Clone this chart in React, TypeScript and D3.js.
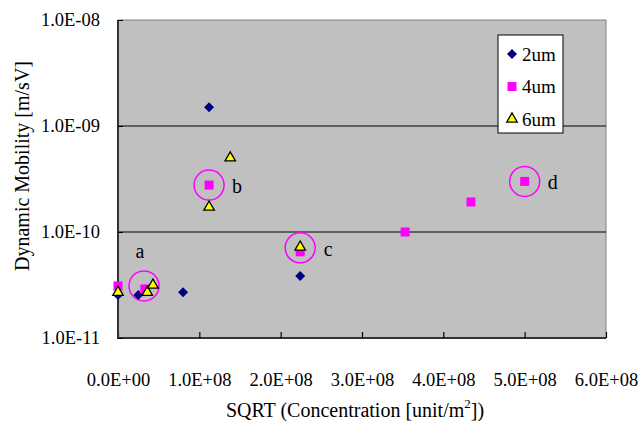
import React, { useRef, useEffect } from 'react';
import * as d3 from 'd3';

// SQRT(concentration) in unit/m, mobility in m/sV
const s2umX = [0, 0.25e8, 0.8e8, 1.12e8, 2.24e8];
const s2umY = [2.55e-11, 2.55e-11, 2.7e-11, 1.5e-9, 3.85e-11];
const s4umX = [0, 0.33e8, 1.12e8, 2.24e8, 3.53e8, 4.34e8, 5.0e8];
const s4umY = [3.1e-11, 2.9e-11, 2.77e-10, 6.5e-11, 1.0e-10, 1.92e-10, 3.0e-10];
const s6umX = [0, 0.36e8, 0.43e8, 1.12e8, 1.38e8, 2.24e8];
const s6umY = [2.7e-11, 2.7e-11, 3.16e-11, 1.72e-10, 5.0e-10, 7.2e-11];

const seriesNames = ['2um', '4um', '6um'];
const xTicks = [0, 1e8, 2e8, 3e8, 4e8, 5e8, 6e8];
const yTicks = [1e-11, 1e-10, 1e-9, 1e-8];

// circled groups
const noteLabels = ['a', 'b', 'c', 'd'];
const noteX = [0.32e8, 1.12e8, 2.24e8, 5.0e8];
const noteY = [3.1e-11, 2.77e-10, 7.1e-11, 3.0e-10];

const fmtX = (v) => {
  if (v === 0) return '0.0E+00';
  const e = Math.floor(Math.log10(v));
  return (v / Math.pow(10, e)).toFixed(1) + 'E+' + String(e).padStart(2, '0');
};
const fmtY = (v) => {
  const e = Math.round(Math.log10(v));
  return '1.0E-' + String(-e).padStart(2, '0');
};

const App = () => {
  const ref = useRef(null);

  useEffect(() => {
    const svg = d3.select(ref.current);
    svg.selectAll('*').remove();

    const m = { left: 118, right: 606, top: 20, bottom: 338 };
    const x = d3.scaleLinear().domain([0, 6e8]).range([m.left, m.right]);
    const y = d3.scaleLog().domain([1e-11, 1e-8]).range([m.bottom, m.top]);
    const font = '"Liberation Serif", "Times New Roman", serif';

    svg.append('rect')
      .attr('x', m.left).attr('y', m.top)
      .attr('width', m.right - m.left).attr('height', m.bottom - m.top)
      .attr('fill', '#c0c0c0').attr('stroke', '#808080').attr('stroke-width', 1);

    // grid
    svg.selectAll('.grid')
      .data([1e-10, 1e-9])
      .join('line')
      .attr('x1', m.left).attr('x2', m.right)
      .attr('y1', d => y(d)).attr('y2', d => y(d))
      .attr('stroke', '#000').attr('stroke-width', 1);

    // axes
    const xAxis = svg.append('g')
      .attr('transform', `translate(0, ${m.bottom})`)
      .call(d3.axisBottom(x).tickValues(xTicks).tickSize(-6).tickFormat(fmtX).tickPadding(35));
    xAxis.select('.domain').attr('stroke', '#333').attr('stroke-width', 2).attr('d', `M${m.left - 1},0H${m.right}`);
    xAxis.selectAll('.tick line').attr('stroke', '#000').attr('stroke-width', 1.2);
    xAxis.selectAll('text').attr('font-family', font).attr('font-size', 18.5).attr('fill', '#000');

    const yAxis = svg.append('g')
      .attr('transform', `translate(${m.left}, 0)`)
      .call(d3.axisLeft(y).tickValues(yTicks).tickSize(-5).tickFormat(fmtY).tickPadding(18));
    yAxis.select('.domain').attr('stroke', '#333').attr('stroke-width', 2).attr('d', `M0,${m.top}V${m.bottom + 1}`);
    yAxis.selectAll('.tick line').attr('stroke', '#000');
    yAxis.selectAll('text').attr('font-family', font).attr('font-size', 18.5).attr('fill', '#000');

    // circles around groups
    noteLabels.forEach((lab, i) => {
      const cx = x(noteX[i]), cy = y(noteY[i]);
      svg.append('circle')
        .attr('cx', cx).attr('cy', cy).attr('r', 15)
        .attr('fill', 'none').attr('stroke', '#ff00ff').attr('stroke-width', 1.5);
      const dx = lab === 'a' ? -4 : 28;
      const dy = lab === 'a' ? -35 : 1;
      svg.append('text')
        .attr('x', cx + dx).attr('y', cy + dy)
        .attr('dy', '0.35em')
        .attr('text-anchor', 'middle')
        .attr('font-family', font).attr('font-size', 20)
        .text(lab);
    });

    const diamond = d3.symbol(d3.symbolSquare, 50);
    const square = d3.symbol(d3.symbolSquare, 81);
    const tri = d3.symbol(d3.symbolTriangle, 48);

    const pts = (xs, ys) => xs.map((v, i) => ({ x: v, y: ys[i] }));

    svg.append('g').selectAll('path')
      .data(pts(s2umX, s2umY))
      .join('path')
      .attr('d', diamond)
      .attr('transform', d => `translate(${x(d.x)},${y(d.y)}) rotate(45)`)
      .attr('fill', '#000080');

    svg.append('g').selectAll('path')
      .data(pts(s4umX, s4umY))
      .join('path')
      .attr('d', square)
      .attr('transform', d => `translate(${x(d.x)},${y(d.y)})`)
      .attr('fill', '#ff00ff');

    svg.append('g').selectAll('path')
      .data(pts(s6umX, s6umY))
      .join('path')
      .attr('d', tri)
      .attr('transform', d => `translate(${x(d.x)},${y(d.y)})`)
      .attr('fill', '#ffff00').attr('stroke', '#000').attr('stroke-width', 1.3);

    // legend
    const lg = svg.append('g').attr('transform', 'translate(498, 35)');
    lg.append('rect').attr('width', 65).attr('height', 98)
      .attr('fill', '#fff').attr('stroke', '#000').attr('stroke-width', 1);
    const syms = [diamond, square, tri];
    const fills = ['#000080', '#ff00ff', '#ffff00'];
    seriesNames.forEach((name, i) => {
      const yy = 19 + i * 32.5;
      lg.append('path')
        .attr('d', syms[i])
        .attr('transform', `translate(14, ${yy}) ${i === 0 ? 'rotate(45)' : ''}`)
        .attr('fill', fills[i])
        .attr('stroke', i === 2 ? '#000' : 'none').attr('stroke-width', 1.3);
      lg.append('text')
        .attr('x', 24).attr('y', yy).attr('dy', '0.35em')
        .attr('font-family', font).attr('font-size', 19)
        .text(name);
    });

    // titles
    svg.append('text')
      .attr('transform', 'translate(22, 166) rotate(-90)')
      .attr('text-anchor', 'middle').attr('dy', '0.35em')
      .attr('font-family', font).attr('font-size', 20)
      .text('Dynamic Mobility [m/sV]');

    const xt = svg.append('text')
      .attr('x', 355).attr('y', 410)
      .attr('text-anchor', 'middle').attr('dy', '0.35em')
      .attr('font-family', font).attr('font-size', 20);
    xt.append('tspan').text('SQRT (Concentration [unit/m');
    xt.append('tspan').attr('font-size', 13).attr('dy', '-0.7em').text('2');
    xt.append('tspan').attr('dy', '0.45em').text('])');
  }, []);

  return (
    <svg ref={ref} width={644} height={421}
      style={{ position: 'absolute', left: 0, top: 0, background: '#fff' }} />
  );
};

export default App;
